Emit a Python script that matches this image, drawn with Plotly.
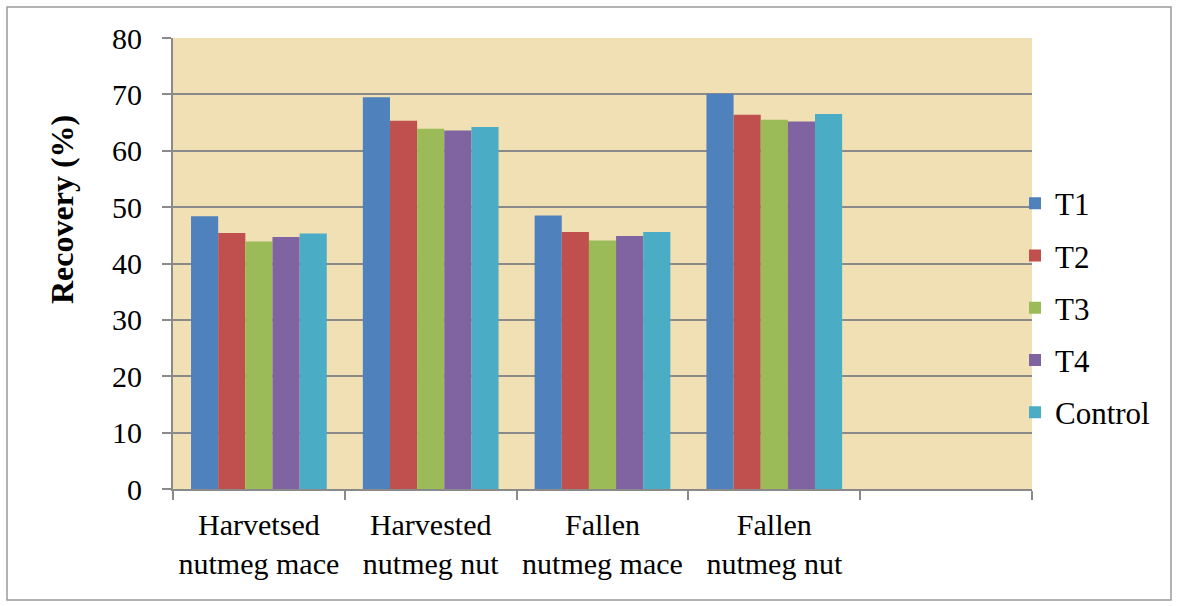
import plotly.graph_objects as go

categories = [
    "Harvetsed<br>nutmeg mace",
    "Harvested<br>nutmeg nut",
    "Fallen<br>nutmeg mace",
    "Fallen<br>nutmeg nut",
]
empty_slot = " "

t1 = [48.4, 69.5, 48.5, 70.1]
t2 = [45.4, 65.3, 45.6, 66.4]
t3 = [43.9, 63.9, 44.1, 65.5]
t4 = [44.7, 63.6, 44.9, 65.2]
control = [45.3, 64.2, 45.6, 66.5]

series_names = ["T1", "T2", "T3", "T4", "Control"]
series_values = [t1, t2, t3, t4, control]
series_colors = ["#4F81BD", "#C0504D", "#9BBB59", "#8064A2", "#4BACC6"]

W, H = 1178, 606
ML, MR, MT, MB = 173, 146, 38, 117
FONT = "Liberation Serif"

fig = go.Figure()
for name, vals, col in zip(series_names, series_values, series_colors):
    fig.add_trace(go.Bar(
        x=categories, y=vals, name=name,
        marker=dict(color=col, line=dict(width=0)),
        legendgroup=name,
    ))

# placeholder so the axis keeps a fifth, unlabeled slot
fig.add_trace(go.Scatter(
    x=[empty_slot], y=[0], mode="markers",
    marker=dict(opacity=0), showlegend=False, hoverinfo="skip",
))

pw = W - ML - MR
ph = H - MT - MB


def px_to_paper_x(px):
    return (px - ML) / pw


def px_to_paper_y(py):
    return (H - MB - py) / ph


fig.add_shape(
    type="rect", xref="paper", yref="paper",
    x0=px_to_paper_x(7), x1=px_to_paper_x(1171),
    y0=px_to_paper_y(600), y1=px_to_paper_y(7),
    line=dict(color="#9a9a9a", width=1.5), fillcolor="rgba(0,0,0,0)",
    layer="below",
)

fig.add_annotation(
    text="<b>Recovery (%)</b>", textangle=-90,
    xref="paper", yref="paper",
    x=px_to_paper_x(62), y=px_to_paper_y(210),
    xanchor="center", yanchor="middle", showarrow=False,
    font=dict(family=FONT, size=32, color="black"),
)

fig.update_layout(
    width=W, height=H,
    margin=dict(l=ML, r=MR, t=MT, b=MB, autoexpand=False),
    paper_bgcolor="white",
    plot_bgcolor="#F1E0B3",
    barmode="group",
    bargap=0.21,
    bargroupgap=0,
    font=dict(family=FONT, size=29, color="black"),
    legend=dict(
        x=px_to_paper_x(1015), xanchor="left",
        y=px_to_paper_y(308), yanchor="middle",
        font=dict(family=FONT, size=31),
        itemwidth=30,
        tracegroupgap=9,
        bgcolor="rgba(0,0,0,0)",
    ),
    showlegend=True,
)

fig.update_xaxes(
    type="category",
    categoryorder="array",
    categoryarray=categories + [empty_slot],
    range=[-0.5, 4.5],
    tickson="boundaries",
    ticks="outside", ticklen=9, tickcolor="#8a8a8a", tickwidth=2,
    showline=True, linecolor="#8a8a8a", linewidth=2,
    showgrid=False,
    tickfont=dict(family=FONT, size=30),
    ticklabelstandoff=8,
)

fig.update_yaxes(
    range=[0, 80], dtick=10,
    ticks="outside", ticklen=9, tickcolor="#8a8a8a", tickwidth=2,
    showline=True, linecolor="#8a8a8a", linewidth=2,
    showgrid=True, gridcolor="#8a8a8a", gridwidth=2,
    zeroline=False,
    tickfont=dict(family=FONT, size=30),
    ticklabelstandoff=14,
)

fig.write_html("out.html")
